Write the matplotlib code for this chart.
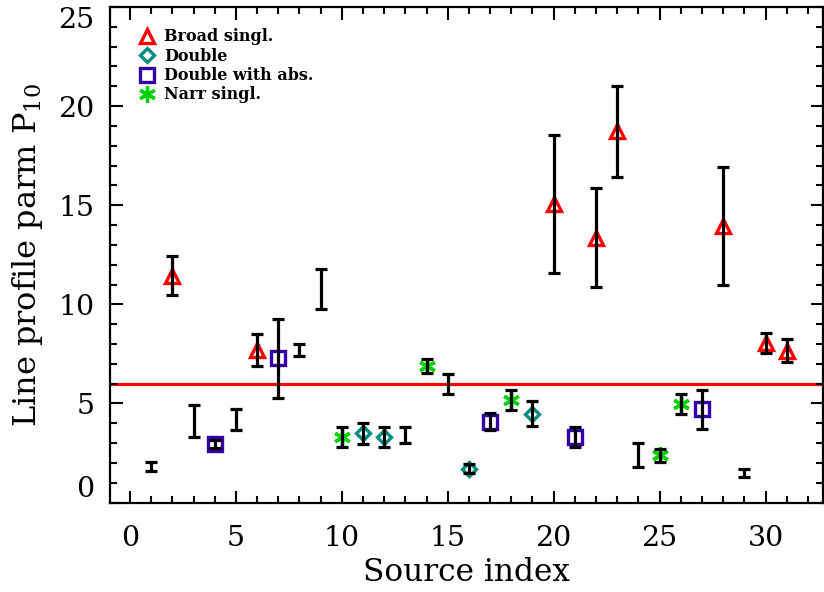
import numpy as np
import matplotlib
matplotlib.use('Agg')
import matplotlib.pyplot as plt
from matplotlib.lines import Line2D
from matplotlib.ticker import MultipleLocator

plt.rcParams['font.family'] = ['DejaVu Serif']
plt.rcParams['mathtext.fontset'] = 'dejavuserif'

# Indices des sources, valeurs P10 et erreurs
source_idx = list(range(1, 32))
p10 = [1.82, 11.45, 4.10, 2.94, 4.18, 7.68, 7.29, 7.68, 10.76, 3.29,
       3.50, 3.29, 3.39, 6.89, 5.99, 1.71, 4.09, 5.18, 4.49, 15.07,
       3.30, 13.37, 18.73, 2.41, 2.38, 4.98, 4.70, 13.97, 1.48, 8.07,
       7.67]
p10_err = [0.21, 1.00, 0.81, 0.21, 0.52, 0.80, 1.99, 0.30, 1.00, 0.50,
           0.52, 0.50, 0.40, 0.33, 0.52, 0.23, 0.44, 0.52, 0.63, 3.49,
           0.52, 2.50, 2.30, 0.60, 0.32, 0.52, 1.00, 2.98, 0.21, 0.50,
           0.60]
# type de profil de raie ('' = pas de symbole)
profile_type = ['', 'broad', '', 'dabs', '', 'broad', 'dabs', '', '', 'narr',
                'double', 'double', '', 'narr', '', 'double', 'dabs', 'narr', 'double', 'broad',
                'dabs', 'broad', 'broad', '', 'narr', 'narr', 'dabs', 'broad', '', 'broad',
                'broad']
threshold = 6.0
y_ticks = [0, 5, 10, 15, 20, 25]

type_labels = ['Broad singl.', 'Double', 'Double with abs.', 'Narr singl.']
type_keys = ['broad', 'double', 'dabs', 'narr']
type_style = {
    'broad': dict(marker='^', color='#ff0000', ms=10),
    'double': dict(marker='D', color='#008c82', ms=7.5),
    'dabs': dict(marker='s', color='#3300a8', ms=10),
    'narr': dict(marker=(6, 2, 0), color='#00d200', ms=12),
}

x = np.array(source_idx)
y = np.array(p10)
e = np.array(p10_err)
t = np.array(profile_type)

fig = plt.figure(figsize=(8.24, 5.92), dpi=100)
ax = fig.add_axes([110 / 824, (592 - 502.6) / 592, 712.5 / 824, 495.6 / 592])

ax.axhline(threshold, color='#ff0000', lw=2.3, zorder=1)

handles = []
for key, lab in zip(type_keys, type_labels):
    st = type_style[key]
    m = t == key
    ax.plot(x[m], y[m], ls='none', marker=st['marker'], ms=st['ms'],
            mfc='none', mec=st['color'], mew=2.4, zorder=2)
    handles.append(Line2D([], [], ls='none', marker=st['marker'], ms=st['ms'],
                          mfc='none', mec=st['color'], mew=2.4, label=lab))

ax.errorbar(x, y, yerr=e, fmt='none', ecolor='k', elinewidth=2.3,
            capsize=4, capthick=2.3, zorder=3)

ax.set_xlim(-0.944, 32.69)
ax.set_ylim(0, 25)
ax.xaxis.set_major_locator(MultipleLocator(5))
ax.xaxis.set_minor_locator(MultipleLocator(1))
ax.set_yticks(y_ticks)
ax.yaxis.set_minor_locator(MultipleLocator(1))
ax.tick_params(which='both', direction='in', top=True, right=True, width=1.5)
ax.tick_params(which='major', length=9)
ax.tick_params(which='minor', length=5)
ax.tick_params(axis='x', which='major', pad=16, labelsize=20.5)
ax.tick_params(axis='y', which='major', pad=11, labelsize=20.5)
for s in ax.spines.values():
    s.set_linewidth(1.6)

ax.set_xlabel('Source index', fontsize=22.5, labelpad=4)
ax.set_ylabel(r'Line profile parm P$_{\rm 10}$', fontsize=23, labelpad=10)

ax.legend(handles=handles, loc='upper left', bbox_to_anchor=(0.041, 0.957),
          frameon=False, handlelength=1.0, handletextpad=0.55,
          labelspacing=0.15, borderpad=0, borderaxespad=0,
          prop=dict(family='DejaVu Serif', weight='bold', size=11.5))

fig.canvas.draw()
ylabs = ax.get_yticklabels()
ylabs[0].set_va('bottom')
ylabs[-1].set_va('top')

fig.savefig('out.png', dpi=100)
